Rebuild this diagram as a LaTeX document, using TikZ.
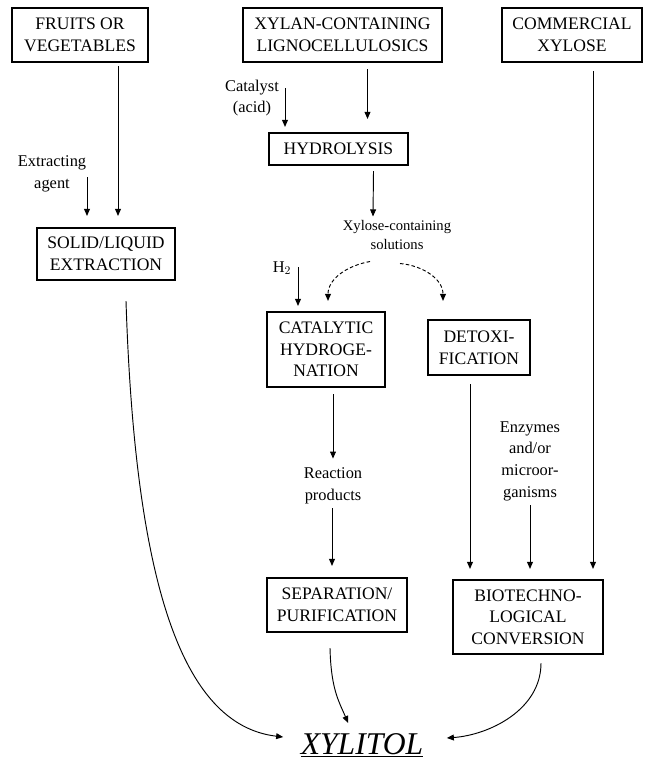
\documentclass[tikz,border=0pt]{standalone}
\usepackage{fontspec}
\setmainfont{Liberation Serif}
\usetikzlibrary{arrows.meta,calc}
\begin{document}
\begin{tikzpicture}[x=0.3mm,y=-0.3mm,>={Triangle[length=6pt,width=5pt]}]
        % Styles
        \tikzstyle{process box}=[draw,line width=1.8pt,align=center,inner sep=0pt,font=\fontsize{15}{18.5}\selectfont]
        \tikzstyle{side text}=[align=center,inner sep=1pt,font=\fontsize{14}{18.5}\selectfont]
        \tikzstyle{flow line}=[->,line width=0.8pt]
        \tikzstyle{dashed flow}=[->,line width=0.8pt,densely dashed]
        %The graphic
        \useasboundingbox (0,0) rectangle (646,771);
        %boxes
        \node[process box,minimum width=40.8mm,minimum height=16.2mm] (fruits) at (80,35) {FRUITS OR\\VEGETABLES};
        \node[process box,minimum width=59.7mm,minimum height=16.2mm] (xylan) at (342.5,35) {XYLAN-CONTAINING\\LIGNOCELLULOSICS};
        \node[process box,minimum width=42mm,minimum height=16.2mm] (comm) at (572,35) {COMMERCIAL\\XYLOSE};
        \node[process box,minimum width=41.7mm,minimum height=9.6mm] (hydro) at (338.5,149) {HYDROLYSIS};
        \node[process box,minimum width=41.4mm,minimum height=15.6mm] (solid) at (106,254) {SOLID/LIQUID\\EXTRACTION};
        \node[process box,minimum width=35.4mm,minimum height=22.5mm] (catal) at (326,349.5) {CATALYTIC\\HYDROGE-\\NATION};
        \node[process box,minimum width=30.6mm,minimum height=16.5mm] (detox) at (479,347.5) {DETOXI-\\FICATION};
        \node[process box,minimum width=42mm,minimum height=16.2mm] (sep) at (337,605) {SEPARATION/\\PURIFICATION};
        \node[process box,minimum width=45mm,minimum height=22.2mm] (bio) at (528,617) {BIOTECHNO-\\LOGICAL\\CONVERSION};
        \node[inner sep=2pt,font=\fontsize{27}{30}\selectfont\itshape] (xyl) at (362,745) {\underline{XYLITOL}};
        %labels
        \node[side text] (extr) at (52,174) {Extracting\\agent};
        \node[side text] (cat) at (252,98) {Catalyst\\(acid)};
        \node[side text,font=\fontsize{12.5}{17}\selectfont] (xysol) at (397,235) {Xylose-containing\\solutions};
        \node[side text] (htwo) at (282,268) {H$_2$};
        \node[side text] (react) at (333,486) {Reaction\\products};
        \node[side text] (enz) at (530,461) {Enzymes\\and/or\\microor-\\ganisms};
        \coordinate (agentin) at (87,177);
        \coordinate (acidin) at (285,88);
        \coordinate (htwoin) at (298,267);
        %straight flows
        \draw[flow line] ($(fruits.south)+(38,3)$) -- ($(solid.north)+(12,-11)$);
        \draw[flow line] (agentin) -- ($(agentin |- solid.north)+(0,-11)$);
        \draw[flow line] ($(xylan.south)+(25,6)$) -- ($(hydro.north)+(29,-13)$);
        \draw[flow line] (acidin) -- ($(acidin |- hydro.north)+(0,-5)$);
        \draw[flow line] ($(hydro.south)+(35,5)$) -- ($(xysol.north)+(-24,-2)$);
        \draw[flow line] (htwoin) -- ($(htwoin |- catal.north)+(0,-5)$);
        \draw[flow line] ($(catal.south)+(7,6)$) -- ($(react.north)+(0,-8)$);
        \draw[flow line] ($(react.south)+(-1,3)$) -- ($(sep.north)+(-5,-11)$);
        \draw[flow line] ($(detox.south)+(-9,8)$) -- ($(bio.north)+(-58,-10)$);
        \draw[flow line] ($(enz.south)+(0,3)$) -- ($(bio.north)+(2,-10)$);
        \draw[flow line] ($(comm.south)+(21,8)$) -- ($(bio.north)+(65,-10)$);
        %split of the solutions
        \draw[dashed flow] ($(xysol.south)+(-27,10)$) to[out=190,in=90] ($(catal.north)+(2,-10)$);
        \draw[dashed flow] ($(xysol.south)+(3,12)$) to[out=-5,in=90] ($(detox.north)+(-36,-18)$);
        %to xylitol
        \draw[flow line] ($(solid.south)+(20,20)$) .. controls ($(solid.south)+(29,300)$) and ($(xyl.west)+(-117,-20)$) .. ($(xyl.west)+(-15,-8)$);
        \draw[flow line] ($(sep.south)+(-7,15)$) .. controls ($(sep.south)+(-6,55)$) and ($(xyl.west)+(40,-45)$) .. ($(xyl.west)+(50,-22)$);
        \draw[flow line] ($(bio.south)+(13,8)$) .. controls ($(bio.south)+(13,55)$) and ($(xyl.east)+(63,-10)$) .. ($(xyl.east)+(21,-7)$);
\end{tikzpicture}
\end{document}
